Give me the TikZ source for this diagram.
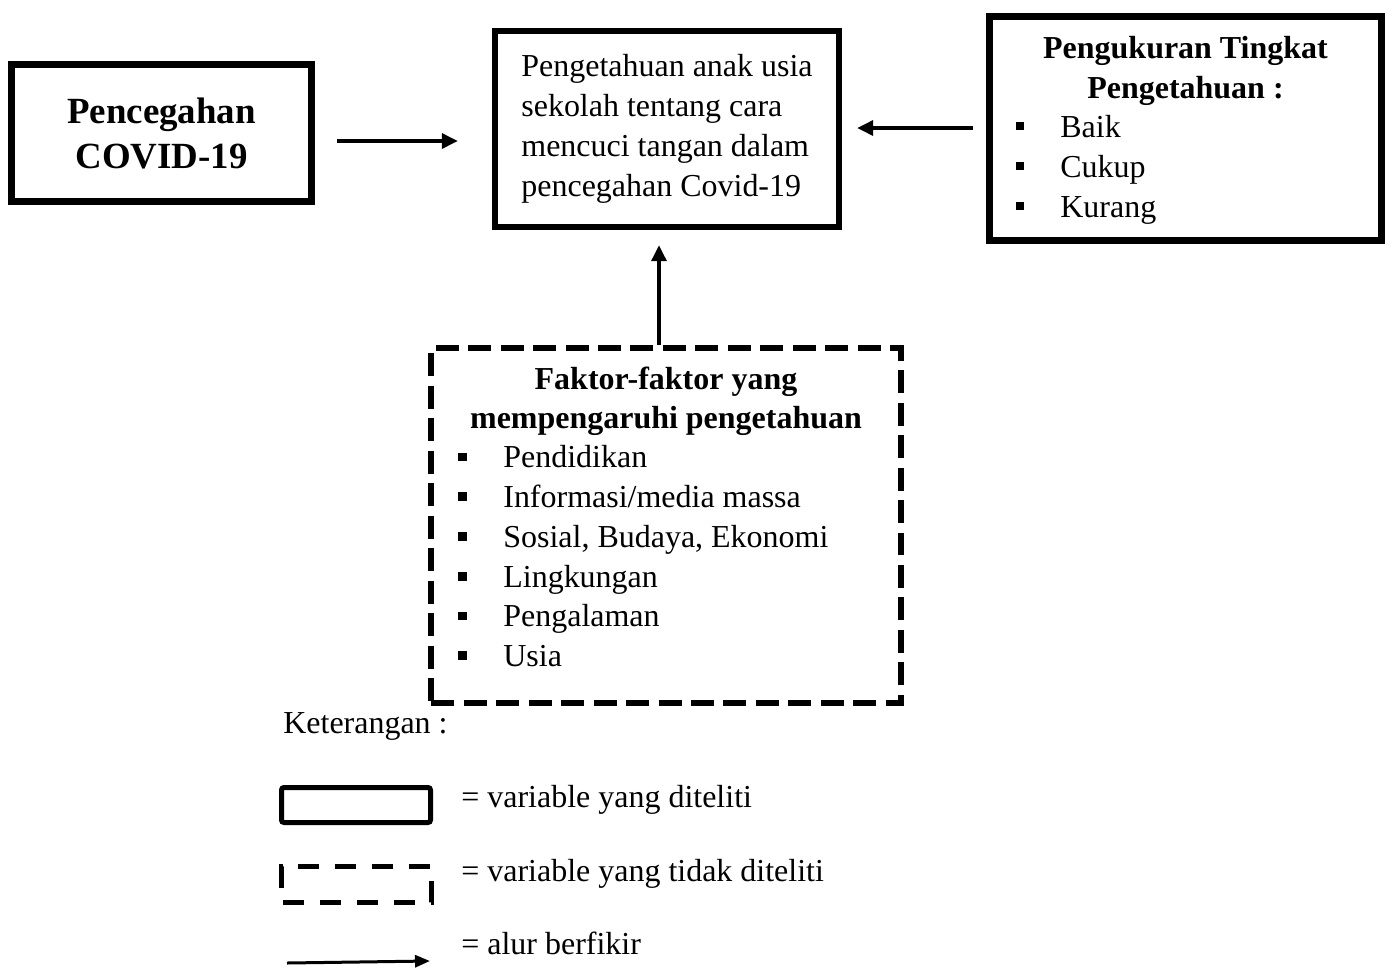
\documentclass[tikz,border=0pt]{standalone}
\usepackage{fontspec}
\setmainfont{Liberation Serif}
\usetikzlibrary{arrows.meta}

\begin{document}
\begin{tikzpicture}[x=0.02cm, y=-0.02cm,
  every node/.style={font=\fontsize{18.2}{22.8}\selectfont},
  box/.style={draw, line width=0.14cm, inner sep=0pt},
  dbox/.style={draw, line width=0.13cm, dash pattern=on 0.46cm off 0.19cm},
  flow/.style={line width=0.07cm, -{Triangle[length=0.32cm,width=0.3cm]}},
  blt/.style={fill, inner sep=0pt, minimum size=0.165cm},
  hd/.style={font=\fontsize{18.2}{22.8}\selectfont\bfseries, anchor=base},
  itm/.style={anchor=base west, inner sep=0pt}]

\useasboundingbox (0,0) rectangle (1394,968);

% kotak utama
\node[box, minimum width=6cm, minimum height=2.73cm, align=center,
  font=\fontsize{21}{25.6}\selectfont\bfseries] (pc) at (161.5,133) {Pencegahan\\COVID-19};

\node[box, line width=0.13cm, minimum width=6.88cm, minimum height=3.92cm,
  align=left] (main) at (667,129)
  {Pengetahuan anak usia\\sekolah tentang cara\\mencuci tangan dalam\\pencegahan Covid-19};

\node[box, minimum width=7.86cm, minimum height=4.5cm] (rt) at (1185.5,128.5) {};
\node[hd] (rt1) at (1185.5,58) {Pengukuran Tingkat};
\node[hd] (rt2) at (1185.5,98) {Pengetahuan :};
\node[blt] (rb1) at (1020,126) {};
\node[itm] (ri1) at (1060,137) {Baik};
\node[blt] (rb2) at (1020,166) {};
\node[itm] (ri2) at (1060,177) {Cukup};
\node[blt] (rb3) at (1020,206) {};
\node[itm] (ri3) at (1060,217) {Kurang};

% faktor (tidak diteliti)
\node[dbox, minimum width=9.4cm, minimum height=7.1cm] (fk) at (666,525.5) {};
\node[hd] (fk1) at (666,389) {Faktor-faktor yang};
\node[hd] (fk2) at (666,428) {mempengaruhi pengetahuan};
\node[blt] (fb1) at (462.5,457) {};
\node[itm] (fi1) at (503,467.5) {Pendidikan};
\node[blt] (fb2) at (462.5,496.5) {};
\node[itm] (fi2) at (503,507) {Informasi/media massa};
\node[blt] (fb3) at (462.5,536.5) {};
\node[itm] (fi3) at (503,547) {Sosial, Budaya, Ekonomi};
\node[blt] (fb4) at (462.5,576.5) {};
\node[itm] (fi4) at (503,587) {Lingkungan};
\node[blt] (fb5) at (462.5,616) {};
\node[itm] (fi5) at (503,626.5) {Pengalaman};
\node[blt] (fb6) at (462.5,655.5) {};
\node[itm] (fi6) at (503,666) {Usia};

% alur
\coordinate (y1) at (0,141);
\coordinate (y2) at (0,128);
\coordinate (x3) at (659,0);
\draw[flow, shorten <=0.44cm, shorten >=0.68cm] (pc.east |- y1) -- (main.west |- y1);
\draw[flow, shorten <=0.25cm, shorten >=0.3cm] (rt.west |- y2) -- (main.east |- y2);
\draw[flow, shorten >=0.3cm] (fk.north -| x3) -- (main.south -| x3);

% keterangan
\node[itm] (ket) at (283,733) {Keterangan :};
\draw[line width=0.1cm, rounded corners=0.05cm] (281.5,787.5) rectangle (430.5,822.5);
\draw[line width=0.1cm, dash pattern=on 0.42cm off 0.32cm]
  (281.5,887) -- (281.5,866.5) -- (431,866.5) -- (431,902) -- (281.5,902) -- cycle;
\coordinate (la) at (287,963);
\coordinate (lb) at (430,961);
\draw[line width=0.06cm, -{Triangle[length=0.3cm,width=0.24cm]}] (la) -- (lb);
\node[itm] (lg1) at (461,807) {= variable yang diteliti};
\node[itm] (lg2) at (461,881) {= variable yang tidak diteliti};
\node[itm] (lg3) at (461,954) {= alur berfikir};

\end{tikzpicture}
\end{document}
